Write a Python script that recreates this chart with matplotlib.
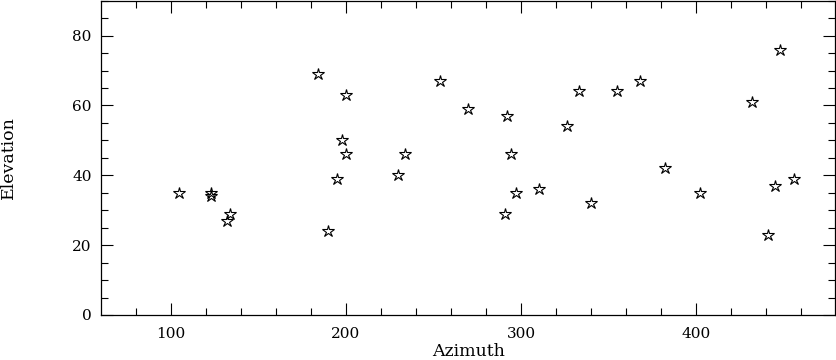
import matplotlib
matplotlib.use('Agg')
import matplotlib.pyplot as plt
from matplotlib.ticker import MultipleLocator

# azimuth / elevation of the sources
azimuth = [105, 123, 123, 134, 132, 184, 200, 198, 200, 195, 190,
           230, 234, 254, 270, 292, 294, 291, 297, 310, 326, 333,
           340, 355, 368, 382, 402, 432, 441, 445, 448, 456]
elevation = [35, 35, 34, 29, 27, 69, 63, 50, 46, 39, 24,
             40, 46, 67, 59, 57, 46, 29, 35, 36, 54, 64,
             32, 64, 67, 42, 35, 61, 23, 37, 76, 39]

plt.rcParams['font.family'] = ['DejaVu Serif']

fig = plt.figure(figsize=(8.37, 3.6), dpi=100)
ax = fig.add_axes([101.5 / 837, 45 / 360, 734 / 837, 314.3 / 360])

ax.plot(azimuth, elevation, linestyle='none', marker='*', markersize=9,
        markerfacecolor='none', markeredgecolor='black', markeredgewidth=0.8)

ax.set_xlim(60.5, 479.5)
ax.set_ylim(0, 90)
ax.xaxis.set_major_locator(MultipleLocator(100))
ax.xaxis.set_minor_locator(MultipleLocator(20))
ax.yaxis.set_major_locator(MultipleLocator(20))
ax.yaxis.set_minor_locator(MultipleLocator(5))

ax.tick_params(which='both', direction='in', top=True, right=True,
               width=0.8, labelsize=11)
ax.tick_params(which='major', length=8.6)
ax.tick_params(which='minor', length=4.7)
ax.tick_params(axis='x', which='major', pad=9)
ax.tick_params(axis='y', which='major', pad=7)
for s in ax.spines.values():
    s.set_linewidth(0.9)

ax.set_xlabel('Azimuth', fontsize=12.5)
ax.set_ylabel('Elevation', fontsize=12.5)
ax.xaxis.set_label_coords(0.5, -0.088)
ax.yaxis.set_label_coords(-0.115, 0.5)

fig.savefig('out.png', dpi=100)
